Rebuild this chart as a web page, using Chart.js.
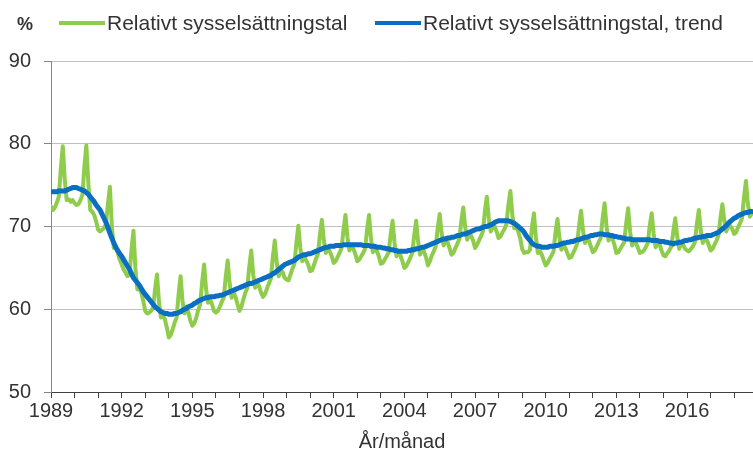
<!DOCTYPE html>
<html>
<head>
<meta charset="utf-8">
<script src="https://cdn.jsdelivr.net/npm/chart.js@4/dist/chart.umd.min.js"></script>
<style>
html, body { margin: 0; padding: 0; background: #fff; }
#wrap { width: 753px; height: 459px; position: relative; }
</style>
</head>
<body>
<div id="wrap"><canvas id="chartSyss"></canvas></div>
<script>
const startYear = 1989
const endYear = 2018.8
const yearLabels = [1989, 1992, 1995, 1998, 2001, 2004, 2007, 2010, 2013, 2016]
const yTicks = [50, 60, 70, 80, 90]
const seriesNames = ['Relativt sysselsättningstal', 'Relativt sysselsättningstal, trend']

// monthly values, one row per year (Jan..Dec), 1989M01 - 2018M10
const relativt = [
	72.4, 72.0, 72.3, 72.9, 73.6, 77.0, 79.7, 75.7, 73.2, 73.3, 73.0, 73.2,
	72.8, 72.6, 72.7, 73.2, 73.8, 77.2, 79.8, 75.3, 72.0, 71.8, 71.4, 70.6,
	69.6, 69.4, 69.6, 69.8, 70.3, 72.7, 74.8, 70.0, 67.4, 67.5, 66.8, 66.0,
	65.4, 64.8, 64.4, 64.0, 64.2, 67.2, 69.5, 64.9, 62.4, 62.6, 62.0, 61.0,
	59.8, 59.5, 59.6, 59.8, 60.2, 62.4, 64.2, 60.9, 59.0, 59.3, 58.8, 57.8,
	56.6, 56.9, 57.6, 58.4, 59.0, 61.8, 64.0, 61.0, 59.5, 60.3, 59.6, 58.6,
	58.0, 58.3, 59.0, 59.9, 60.6, 63.3, 65.4, 62.4, 60.8, 61.2, 60.6, 59.8,
	59.6, 59.8, 60.3, 60.9, 61.4, 63.9, 65.9, 63.1, 61.4, 62.0, 61.5, 60.6,
	59.8, 60.3, 61.2, 62.0, 62.6, 65.1, 67.1, 64.2, 62.6, 63.2, 62.8, 62.0,
	61.5, 61.8, 62.5, 63.1, 63.7, 66.3, 68.3, 65.6, 64.0, 64.7, 64.5, 63.8,
	63.6, 63.5, 64.2, 64.9, 65.5, 68.0, 70.1, 67.4, 65.8, 66.3, 65.9, 65.4,
	64.6, 64.7, 65.4, 66.1, 66.7, 69.0, 70.8, 68.3, 66.8, 67.3, 67.0, 66.4,
	65.6, 65.8, 66.3, 66.8, 67.4, 69.6, 71.4, 68.7, 67.1, 67.6, 67.3, 66.7,
	65.8, 66.0, 66.4, 66.8, 67.3, 69.6, 71.4, 68.5, 66.9, 67.4, 67.0, 66.4,
	65.5, 65.6, 66.0, 66.4, 66.9, 69.0, 70.7, 68.0, 66.4, 66.8, 66.5, 65.8,
	65.0, 65.2, 65.7, 66.2, 66.8, 68.9, 70.7, 68.2, 66.6, 67.2, 67.0, 66.3,
	65.3, 65.8, 66.5, 67.0, 67.6, 69.8, 71.5, 69.2, 67.7, 68.3, 68.1, 67.4,
	66.6, 66.8, 67.4, 67.9, 68.5, 70.6, 72.3, 69.9, 68.4, 69.0, 68.9, 68.3,
	67.4, 67.8, 68.3, 68.8, 69.4, 71.8, 73.6, 71.0, 69.4, 70.0, 70.0, 69.4,
	68.6, 68.8, 69.3, 69.7, 70.3, 72.6, 74.3, 71.4, 69.8, 70.0, 69.4, 68.6,
	67.3, 66.8, 66.9, 66.9, 67.2, 69.9, 71.6, 68.7, 66.8, 67.0, 66.6, 65.9,
	65.3, 65.6, 66.1, 66.5, 67.0, 69.3, 70.9, 68.6, 67.2, 67.7, 67.4, 66.8,
	66.2, 66.3, 66.8, 67.3, 67.9, 70.1, 71.9, 69.5, 68.0, 68.5, 68.3, 67.6,
	66.9, 67.1, 67.6, 68.1, 68.6, 71.0, 72.8, 70.0, 68.3, 68.7, 68.5, 67.8,
	66.8, 66.9, 67.3, 67.7, 68.1, 70.4, 72.2, 69.4, 67.7, 68.2, 68.0, 67.4,
	66.8, 66.9, 67.1, 67.5, 68.0, 70.1, 71.6, 69.1, 67.5, 68.0, 67.8, 67.1,
	66.5, 66.4, 66.8, 67.1, 67.6, 69.4, 71.0, 68.8, 67.3, 67.9, 67.8, 67.3,
	67.1, 67.0, 67.3, 67.6, 68.1, 70.3, 72.0, 69.5, 68.0, 68.6, 68.4, 67.8,
	67.1, 67.3, 67.8, 68.3, 68.9, 71.0, 72.7, 70.7, 69.4, 70.1, 70.1, 69.7,
	69.1, 69.3, 69.9, 70.4, 71.0, 73.5, 75.5, 72.7, 71.2, 71.6,
]

const trend = [
	74.2, 74.2, 74.2, 74.2, 74.3, 74.3, 74.3, 74.3, 74.4, 74.5, 74.6, 74.7,
	74.7, 74.7, 74.6, 74.5, 74.4, 74.3, 74.1, 73.9, 73.6, 73.3, 73.0, 72.6,
	72.3, 72.0, 71.5, 71.0, 70.5, 69.9, 69.2, 68.6, 68.0, 67.5, 67.1, 66.7,
	66.4, 66.0, 65.6, 65.2, 64.8, 64.3, 63.8, 63.5, 63.2, 62.9, 62.5, 62.1,
	61.8, 61.5, 61.2, 60.9, 60.6, 60.3, 60.1, 59.9, 59.7, 59.6, 59.5, 59.5,
	59.4, 59.4, 59.4, 59.5, 59.5, 59.6, 59.7, 59.9, 60.0, 60.1, 60.3, 60.4,
	60.5, 60.7, 60.8, 61.0, 61.1, 61.2, 61.3, 61.4, 61.4, 61.5, 61.5, 61.5,
	61.6, 61.6, 61.7, 61.7, 61.8, 61.9, 62.0, 62.1, 62.2, 62.3, 62.4, 62.5,
	62.6, 62.7, 62.8, 62.9, 63.0, 63.1, 63.1, 63.2, 63.3, 63.4, 63.5, 63.6,
	63.7, 63.8, 63.9, 64.0, 64.1, 64.3, 64.4, 64.6, 64.8, 65.0, 65.2, 65.4,
	65.5, 65.6, 65.7, 65.8, 65.9, 66.1, 66.3, 66.4, 66.5, 66.6, 66.6, 66.7,
	66.7, 66.8, 66.9, 67.0, 67.1, 67.2, 67.3, 67.4, 67.5, 67.5, 67.6, 67.6,
	67.6, 67.7, 67.7, 67.7, 67.7, 67.8, 67.8, 67.8, 67.8, 67.8, 67.8, 67.8,
	67.8, 67.8, 67.8, 67.7, 67.7, 67.7, 67.7, 67.6, 67.6, 67.6, 67.5, 67.5,
	67.5, 67.4, 67.4, 67.3, 67.3, 67.2, 67.2, 67.1, 67.1, 67.0, 67.0, 67.0,
	67.0, 67.0, 67.1, 67.1, 67.2, 67.2, 67.3, 67.3, 67.4, 67.5, 67.5, 67.6,
	67.7, 67.8, 67.9, 68.0, 68.1, 68.2, 68.3, 68.4, 68.5, 68.5, 68.6, 68.6,
	68.7, 68.7, 68.8, 68.9, 68.9, 69.0, 69.1, 69.1, 69.2, 69.3, 69.4, 69.5,
	69.6, 69.7, 69.7, 69.8, 69.9, 70.0, 70.0, 70.1, 70.2, 70.3, 70.5, 70.6,
	70.7, 70.7, 70.7, 70.7, 70.7, 70.7, 70.6, 70.5, 70.4, 70.2, 70.0, 69.8,
	69.6, 69.3, 68.9, 68.6, 68.3, 68.0, 67.8, 67.7, 67.6, 67.6, 67.5, 67.5,
	67.5, 67.5, 67.6, 67.6, 67.6, 67.7, 67.7, 67.8, 67.9, 68.0, 68.0, 68.1,
	68.1, 68.2, 68.2, 68.3, 68.4, 68.4, 68.5, 68.6, 68.7, 68.7, 68.8, 68.9,
	68.9, 69.0, 69.0, 69.1, 69.1, 69.1, 69.0, 69.0, 69.0, 68.9, 68.9, 68.8,
	68.8, 68.7, 68.7, 68.6, 68.6, 68.5, 68.5, 68.5, 68.4, 68.4, 68.4, 68.4,
	68.4, 68.4, 68.4, 68.4, 68.4, 68.4, 68.3, 68.3, 68.3, 68.3, 68.2, 68.2,
	68.2, 68.1, 68.1, 68.0, 68.0, 67.9, 68.0, 68.0, 68.1, 68.1, 68.2, 68.3,
	68.3, 68.4, 68.4, 68.5, 68.6, 68.6, 68.7, 68.7, 68.8, 68.8, 68.9, 68.9,
	68.9, 69.0, 69.1, 69.2, 69.3, 69.5, 69.7, 69.9, 70.1, 70.4, 70.6, 70.8,
	71.0, 71.1, 71.3, 71.4, 71.5, 71.6, 71.7, 71.7, 71.8, 71.8,
]

const toPoints = (values) => values.map((v, i) => ({ x: startYear + i / 12, y: v }))

const fontFamily = '"Liberation Sans", Arial, sans-serif'
const textColor = '#333333'

// legend + "%" drawn by hand to get the Excel-like layout
const topLegend = {
	id: 'topLegend',
	afterDraw(chart) {
		const ctx = chart.ctx
		ctx.save()
		ctx.fillStyle = textColor
		ctx.textBaseline = 'alphabetic'
		ctx.font = 'bold 18px ' + fontFamily
		ctx.fillText('%', 17, 30)
		ctx.font = '21px ' + fontFamily
		const starts = [59, 375]
		chart.data.datasets.forEach((ds, i) => {
			const x0 = starts[i]
			ctx.strokeStyle = ds.borderColor
			ctx.lineWidth = 4
			ctx.beginPath()
			ctx.moveTo(x0, 23)
			ctx.lineTo(x0 + 46, 23)
			ctx.stroke()
			ctx.fillText(ds.label, x0 + 48, 30)
		})
		ctx.restore()
	},
}

const ctx = document.getElementById('chartSyss').getContext('2d')
const chartSyss = new Chart(ctx, {
	type: 'line',
	data: {
		datasets: [
			{
				label: seriesNames[0],
				data: toPoints(relativt),
				borderColor: '#8FCC4C',
				backgroundColor: '#8FCC4C',
				borderWidth: 4,
				borderJoinStyle: 'round',
				borderCapStyle: 'round',
				pointRadius: 0,
				tension: 0,
				order: 1,
			},
			{
				label: seriesNames[1],
				data: toPoints(trend),
				borderColor: '#0A6EC2',
				backgroundColor: '#0A6EC2',
				borderWidth: 5,
				borderJoinStyle: 'round',
				borderCapStyle: 'round',
				pointRadius: 0,
				tension: 0,
				order: 0,
			},
		],
	},
	options: {
		responsive: true,
		maintainAspectRatio: false,
		animation: false,
		layout: { padding: { top: 61, right: 0, left: 0, bottom: 0 } },
		scales: {
			x: {
				type: 'linear',
				min: startYear,
				max: endYear,
				afterFit: (scale) => { scale.height = 67 },
				border: { color: '#404040', width: 1 },
				grid: { drawOnChartArea: false, drawTicks: true, tickLength: 6, tickColor: '#404040' },
				title: {
					display: true,
					text: 'År/månad',
					color: textColor,
					font: { family: fontFamily, size: 20 },
					padding: { top: 0, bottom: 5 },
				},
				ticks: {
					stepSize: 1,
					includeBounds: false,
					autoSkip: false,
					maxRotation: 0,
					padding: 1,
					color: textColor,
					font: { family: fontFamily, size: 20 },
					callback: (value) => (yearLabels.includes(value) ? String(value) : ''),
				},
			},
			y: {
				min: yTicks[0],
				max: yTicks[yTicks.length - 1],
				afterFit: (scale) => { scale.width = 51 },
				border: { color: '#868686', width: 1 },
				grid: {
					color: (c) => (c.tick && c.tick.value === yTicks[0] ? 'rgba(0,0,0,0)' : '#C0C0C0'),
					tickLength: 7,
					tickColor: '#868686',
				},
				ticks: {
					stepSize: 10,
					padding: 13,
					color: textColor,
					font: { family: fontFamily, size: 20 },
				},
			},
		},
		plugins: {
			legend: { display: false },
			tooltip: { enabled: false },
		},
	},
	plugins: [topLegend],
})
</script>
</body>
</html>
